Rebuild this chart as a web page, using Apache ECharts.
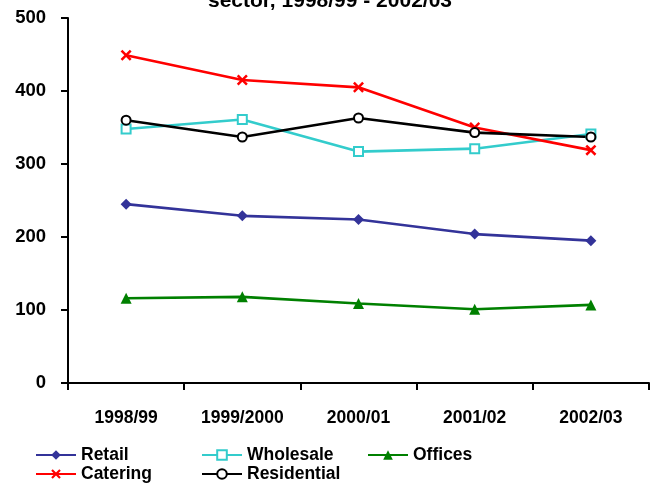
<!DOCTYPE html>
<html>
<head>
<meta charset="utf-8">
<script src="https://cdn.jsdelivr.net/npm/echarts@6/dist/echarts.min.js"></script>
<style>html,body{margin:0;padding:0;background:#fff}#c{width:653px;height:483px}</style>
</head>
<body>
<div id="c"></div>
<script>
const categories = ['1998/99', '1999/2000', '2000/01', '2001/02', '2002/03'];
const retail = [245, 229, 224, 204, 195];
const wholesale = [348, 361, 317, 321, 341];
const offices = [116, 118, 109, 101, 107];
const catering = [449, 415, 405, 350, 319];
const residential = [360, 337, 363, 343, 337];
const yTicks = { min: 0, max: 500, interval: 100 };
const titleText = 'sector, 1998/99 - 2002/03';

const FONT = '"Liberation Sans", Arial, sans-serif';
const crossPath = 'path://M0,1.6L1.6,0L5,3.4L8.4,0L10,1.6L6.6,5L10,8.4L8.4,10L5,6.6L1.6,10L0,8.4L3.4,5Z';

function mkSeries(name, data, color, symbol, size, bw) {
  return {
    name: name, type: 'line', data: data,
    symbol: symbol, symbolSize: size,
    lineStyle: { color: color, width: 2.6 },
    itemStyle: { color: color, borderColor: color, borderWidth: bw || 0 },
    emphasis: { disabled: true },
    animation: false
  };
}

function mkLegend(name, left, top) {
  return {
    data: [name], left: left, top: top, orient: 'horizontal',
    itemWidth: 40, itemHeight: 12, padding: 0,
    textStyle: { fontFamily: FONT, fontWeight: 'bold', fontSize: 17.5, color: '#000' },
    selectedMode: false
  };
}

const chart = echarts.init(document.getElementById('c'), null, { renderer: 'canvas' });
chart.setOption({
  backgroundColor: '#fff',
  animation: false,
  graphic: [{
    type: 'text', left: 208, top: -9,
    style: { text: titleText, font: 'bold 21px ' + FONT, fill: '#000' }
  }],
  grid: { left: 68, right: 4, top: 18, bottom: 100, containLabel: false },
  legend: [
    mkLegend('Retail', 35, 446),
    mkLegend('Wholesale', 201, 446),
    mkLegend('Offices', 367, 446),
    mkLegend('Catering', 35, 465),
    mkLegend('Residential', 201, 465)
  ],
  xAxis: {
    type: 'category', data: categories, boundaryGap: true,
    axisLine: { lineStyle: { color: '#000', width: 2 } },
    axisTick: { show: true, length: 7, lineStyle: { color: '#000', width: 2 } },
    axisLabel: { fontFamily: FONT, fontWeight: 'bold', fontSize: 17.5, color: '#000', margin: 26 },
    splitLine: { show: false }
  },
  yAxis: {
    type: 'value', min: yTicks.min, max: yTicks.max, interval: yTicks.interval,
    axisLine: { show: true, lineStyle: { color: '#000', width: 2 } },
    axisTick: { show: true, length: 7, lineStyle: { color: '#000', width: 2 } },
    axisLabel: { fontFamily: FONT, fontWeight: 'bold', fontSize: 18.5, color: '#000', margin: 22 },
    splitLine: { show: false }
  },
  series: [
    mkSeries('Retail', retail, '#333399', 'diamond', 11, 0),
    mkSeries('Wholesale', wholesale, '#33CCCC', 'emptyRect', 9, 2),
    mkSeries('Offices', offices, '#008000', 'triangle', 11, 0),
    mkSeries('Catering', catering, '#FF0000', crossPath, 11, 0),
    mkSeries('Residential', residential, '#000000', 'emptyCircle', 9, 2)
  ]
});
</script>
</body>
</html>
